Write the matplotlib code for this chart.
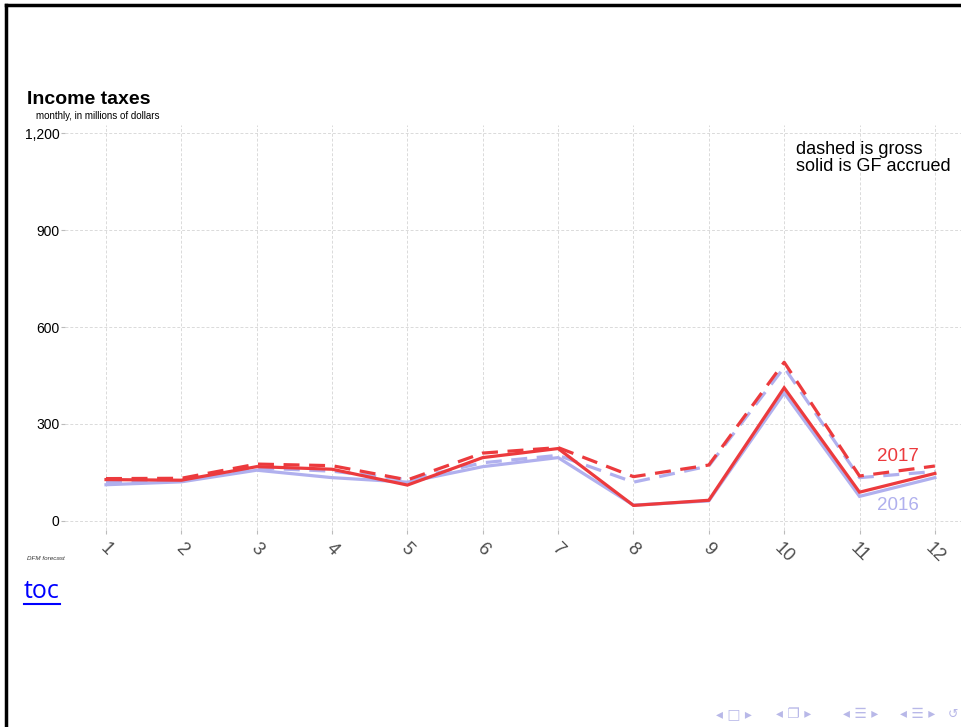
import matplotlib.pyplot as plt
from matplotlib.lines import Line2D

months = list(range(1, 13))

# monthly, in millions of dollars
gross_2016 = [121, 125, 164, 154, 128, 180, 203, 120, 170, 475, 134, 153]
gf_2016 = [112, 121, 157, 134, 120, 168, 196, 49, 62, 396, 76, 134]
gross_2017 = [131, 132, 176, 171, 127, 210, 227, 137, 173, 491, 139, 170]
gf_2017 = [128, 126, 168, 160, 111, 196, 224, 48, 64, 412, 89, 147]

y_ticks = [0, 300, 600, 900, 1200]

nav_groups = ['◂ □ ▸', '◂ ❐ ▸', '◂ ☰ ▸', '◂ ☰ ▸']

red = '#EC3A3D'
lav = '#B0B0EE'

plt.rcParams['font.family'] = ['Liberation Sans', 'DejaVu Sans']

fig = plt.figure(figsize=(9.62, 7.27), dpi=100)
ax = fig.add_axes([65 / 962, 1 - 530 / 727, 1 - 65 / 962, 405 / 727])

ax.plot(months, gf_2016, color=lav, lw=2.3, solid_joinstyle='miter')
ax.plot(months, gross_2016, color=lav, lw=2.3, ls=(0, (5, 3)))
ax.plot(months, gf_2017, color=red, lw=2.3, solid_joinstyle='miter')
ax.plot(months, gross_2017, color=red, lw=2.3, ls=(0, (5, 3)))

ax.set_xlim(0.456, 12.36)
ax.set_ylim(-28, 1225)
ax.set_xticks(months)
ax.set_yticks(y_ticks)
ax.set_yticklabels([f'{v:,}' for v in y_ticks])
ax.grid(True, color='#DADADA', ls=(0, (3, 2)), lw=0.7)
ax.set_axisbelow(True)
for s in ax.spines.values():
    s.set_visible(False)
ax.tick_params(axis='y', length=3, color='#BBBBBB', labelsize=10, labelcolor='black', pad=1)
ax.tick_params(axis='x', length=3, color='#BBBBBB', labelsize=13, labelcolor='#4D4D4D', pad=4)
for lab in ax.get_xticklabels():
    lab.set_rotation(-45)
    lab.set_ha('center')
    lab.set_va('top')

ax.text(11.23, 198, '2017', color=red, fontsize=13.5, va='center', ha='left')
ax.text(11.23, 49, '2016', color=lav, fontsize=13.5, va='center', ha='left')
ax.text(796 / 962, 1 - 158 / 727, 'dashed is gross\nsolid is GF accrued', transform=fig.transFigure,
        fontsize=13, va='center', ha='left', linespacing=0.95)

fig.text(27 / 962, 1 - 99 / 727, 'Income taxes', fontsize=14, fontweight='bold', va='center', ha='left')
fig.text(36 / 962, 1 - 116 / 727, 'monthly, in millions of dollars', fontsize=7, va='center', ha='left')
fig.text(27 / 962, 1 - 558 / 727, 'DFM forecast', fontsize=4.5, style='italic', va='center', ha='left',
         color='#333333')

fig.text(24 / 962, 1 - 591 / 727, 'toc', fontsize=18, color='#0000FF', va='center', ha='left',
         family=['Open Sans', 'DejaVu Sans'])
fig.add_artist(Line2D([24 / 962, 60 / 962], [1 - 604 / 727, 1 - 604 / 727], color='#0000FF', lw=1.5,
                      transform=fig.transFigure))

for xp, g in zip([716, 776, 843, 900], nav_groups):
    fig.text(xp / 962, 1 - 714 / 727, g, fontsize=10, color='#B8B8E8', va='center', ha='left',
             family=['DejaVu Sans'])
fig.text(948 / 962, 1 - 714 / 727, '↺', fontsize=9, color='#B8B8E8', va='center', ha='left',
         family=['DejaVu Sans'])

# slide frame
fig.add_artist(Line2D([5.5 / 962, 5.5 / 962], [0, 1 - 5 / 727], color='black', lw=2.5, transform=fig.transFigure))
fig.add_artist(Line2D([5.5 / 962, 1], [1 - 5 / 727, 1 - 5 / 727], color='black', lw=2.5, transform=fig.transFigure))

fig.savefig('out.png', dpi=100)
